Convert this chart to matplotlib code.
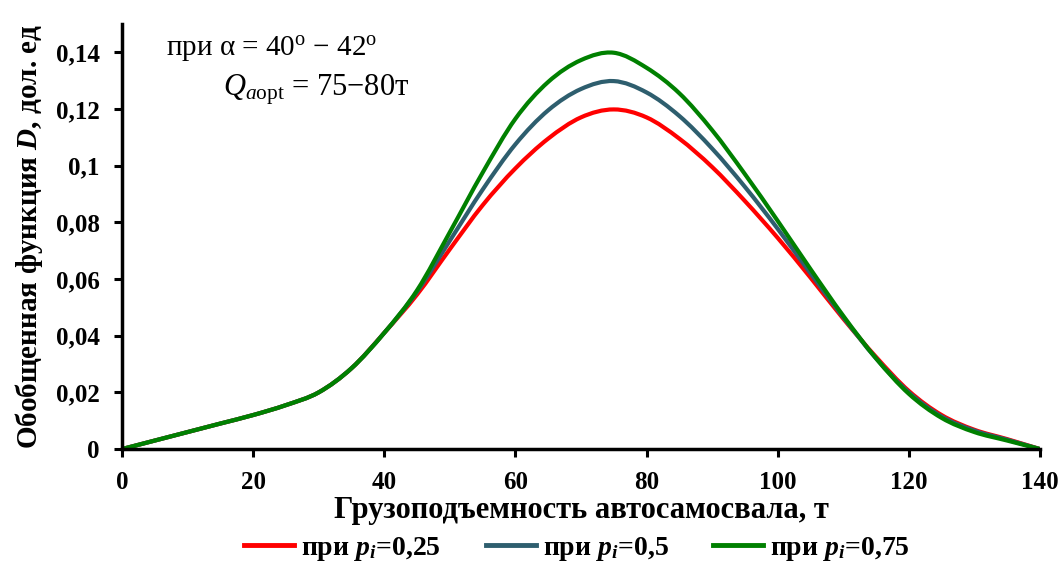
import matplotlib
matplotlib.use("Agg")
import matplotlib.pyplot as plt
from matplotlib.path import Path
from matplotlib.patches import PathPatch
from matplotlib.lines import Line2D

plt.rcParams['font.family'] = ['Liberation Serif', 'DejaVu Serif']
plt.rcParams['mathtext.fontset'] = 'custom'
plt.rcParams['mathtext.rm'] = 'Liberation Serif'
plt.rcParams['mathtext.it'] = 'Liberation Serif:italic'
plt.rcParams['mathtext.bf'] = 'Liberation Serif:bold'
plt.rcParams['mathtext.bfit'] = 'Liberation Serif:italic:bold'

# -------------------------------
# DATA
# -------------------------------
x = [0, 5, 10, 15, 20, 25, 30, 35, 40, 45, 50, 55, 60, 65, 70, 75,
     80, 85, 90, 95, 100, 105, 110, 115, 120, 125, 130, 135, 140]

d_025 = [0, 0.003, 0.006, 0.009, 0.012, 0.0155, 0.020, 0.0285, 0.041, 0.0545,
         0.0705, 0.086, 0.099, 0.1095, 0.117, 0.1198, 0.117, 0.1095, 0.0995, 0.0875,
         0.0745, 0.0605, 0.046, 0.0325, 0.0205, 0.012, 0.0068, 0.0035, 0]
d_05 = [0, 0.003, 0.006, 0.009, 0.012, 0.0155, 0.020, 0.0285, 0.041, 0.0555,
        0.0735, 0.0915, 0.1075, 0.1195, 0.127, 0.1298, 0.1258, 0.1175, 0.106, 0.0925,
        0.0777, 0.062, 0.0465, 0.032, 0.020, 0.0115, 0.0065, 0.0033, 0]
d_075 = [0, 0.003, 0.006, 0.009, 0.012, 0.0155, 0.020, 0.0285, 0.041, 0.056,
         0.0765, 0.0975, 0.1165, 0.1295, 0.1372, 0.1398, 0.1345, 0.1255, 0.1125, 0.097,
         0.0805, 0.0635, 0.047, 0.032, 0.0195, 0.011, 0.006, 0.003, 0]

labels = [r"при $\mathbfit{p_i}$=0,25", r"при $\mathbfit{p_i}$=0,5", r"при $\mathbfit{p_i}$=0,75"]
colors = ["#ff0000", "#2e5e6e", "#008000"]

xticks = [0, 20, 40, 60, 80, 100, 120, 140]
yticks = [0, 0.02, 0.04, 0.06, 0.08, 0.1, 0.12, 0.14]
ytick_labels = ["0", "0,02", "0,04", "0,06", "0,08", "0,1", "0,12", "0,14"]


def smooth_path(xs, ys):
    # Excel-like smoothed line: Catmull-Rom segments as cubic Bezier curves
    n = len(xs)
    verts = [(xs[0], ys[0])]
    codes = [Path.MOVETO]
    for i in range(n - 1):
        x0, y0 = (xs[i - 1], ys[i - 1]) if i > 0 else (xs[i], ys[i])
        x3, y3 = (xs[i + 2], ys[i + 2]) if i + 2 < n else (xs[i + 1], ys[i + 1])
        c1 = (xs[i] + (xs[i + 1] - x0) / 6, ys[i] + (ys[i + 1] - y0) / 6)
        c2 = (xs[i + 1] - (x3 - xs[i]) / 6, ys[i + 1] - (y3 - ys[i]) / 6)
        verts += [c1, c2, (xs[i + 1], ys[i + 1])]
        codes += [Path.CURVE4] * 3
    return Path(verts, codes)


# -------------------------------
# PLOT
# -------------------------------
fig = plt.figure(figsize=(10.59, 5.67), dpi=100)
ax = fig.add_axes([0.1152, 0.208, 0.8668, 0.75])

handles = []
for ys, c, lab in zip([d_025, d_05, d_075], colors, labels):
    ax.add_patch(PathPatch(smooth_path(x, ys), fill=False, edgecolor=c, lw=3,
                           capstyle='round', joinstyle='round'))
    handles.append(Line2D([], [], color=c, lw=3.5, label=lab))

ax.set_xlim(0, 140)
ax.set_ylim(0, 0.15)
ax.set_xticks(xticks)
ax.set_xticklabels([str(t) for t in xticks], fontweight='bold', fontsize=18)
ax.set_yticks(yticks)
ax.set_yticklabels(ytick_labels, fontweight='bold', fontsize=18)

for s in ['top', 'right']:
    ax.spines[s].set_visible(False)
for s in ['left', 'bottom']:
    ax.spines[s].set_linewidth(2.5)
ax.tick_params(direction='out', length=6, width=2.2, pad=10)

ax.set_xlabel("Грузоподъемность автосамосвала, т", fontsize=22, fontweight='bold', labelpad=1)
ax.set_ylabel(r"Обобщенная функция $\mathbfit{D}$, дол. ед", fontsize=21,
              fontweight='bold', labelpad=8)

ax.text(0.048, 0.975, "при α = 40$^{\\mathrm{o}}$ − 42$^{\\mathrm{o}}$", transform=ax.transAxes,
        fontsize=21, va='top', ha='left')
ax.text(0.11, 0.885, "$Q_{a\\mathrm{opt}}$ = 75−80т", transform=ax.transAxes,
        fontsize=22, va='top', ha='left')

fig.legend(handles=handles, loc='center', bbox_to_anchor=(0.545, 0.032), ncol=3,
           frameon=False, prop={'weight': 'bold', 'size': 20}, handlelength=1.8,
           handletextpad=0.25, columnspacing=1.6)

plt.savefig("out.png", dpi=100)
